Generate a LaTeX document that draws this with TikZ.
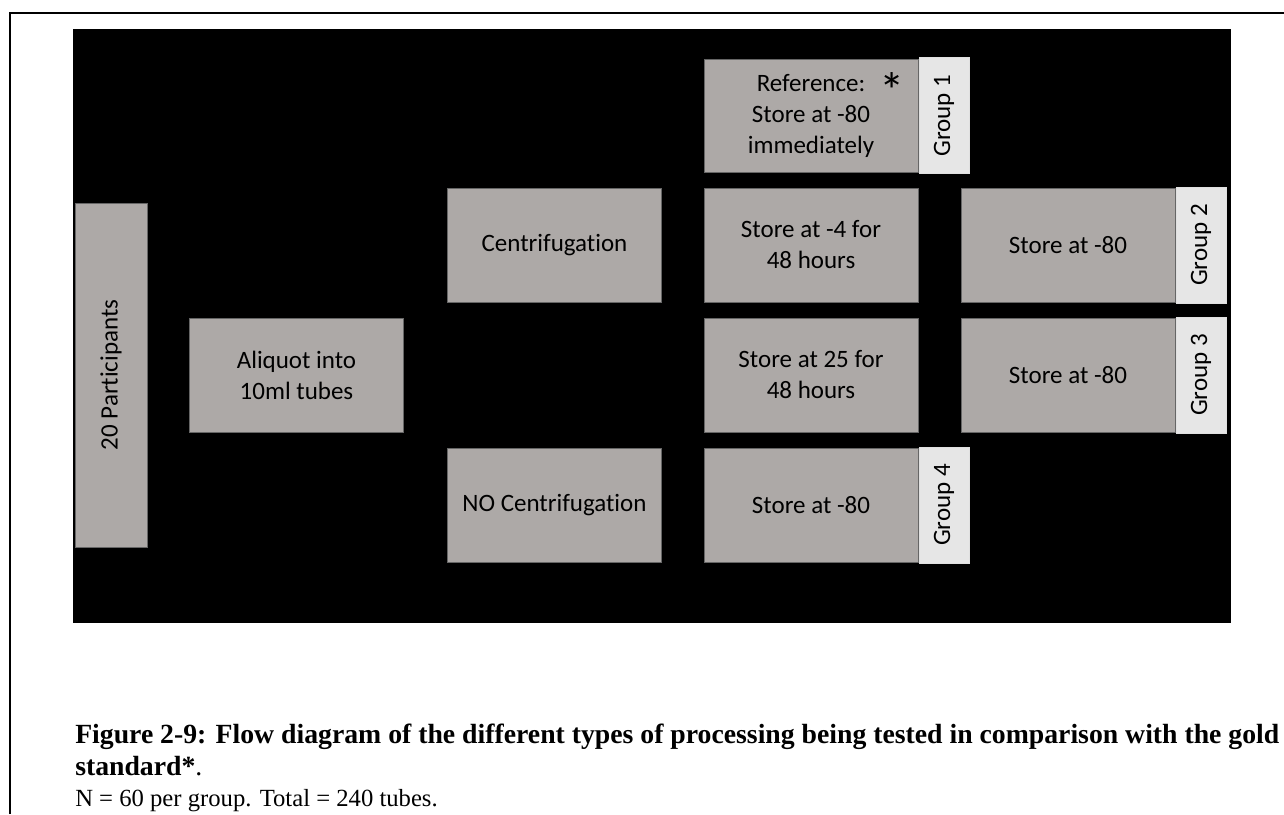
\documentclass[tikz,border=0pt]{standalone}
\usepackage{fontspec}
\setmainfont{Carlito}[Ligatures=NoCommon]
\newfontfamily\capfont{Liberation Serif}
\usetikzlibrary{positioning}
\begin{document}
\begin{tikzpicture}[x=0.75pt,y=-0.75pt]
    % one pixel of the layout
    \def\u{0.75pt}
    % size of each block
    \def\bw{214}
    \def\bh{114}
    \definecolor{boxgray}{RGB}{173,169,167}
    \definecolor{taggray}{RGB}{230,230,230}
    % node style definition
    \tikzstyle{block} = [
    	draw=black!60, fill=boxgray, rectangle, line width=\u,
    	minimum width=\bw*\u, minimum height=\bh*\u,
    	inner sep=0pt, align=center,
    	font=\fontsize{18.75}{23.25}\selectfont ];
    \tikzstyle{tag} = [
    	draw=black!12, fill=taggray, rectangle, line width=\u,
    	minimum width=50*\u, minimum height=116*\u, inner sep=0pt,
    	font=\fontsize{18.75}{23.25}\selectfont ];
    \tikzstyle{plain} = [draw=none,fill=none,inner sep=0pt];
    \useasboundingbox (0,0) rectangle (1284,814);
    % page frame and dark panel
    \draw[line width=2*\u] (10,814) |- (1284,13);
    \fill[black] (73,29) rectangle (1231,623);
    % first two steps
    \node[block, minimum width=72*\u, minimum height=344*\u] (part) at (111,375)
    	{\rotatebox{90}{20 Participants}};
    \node[block] (aliq) at (296.5,375) {Aliquot into\\10ml tubes};
    % processing
    \node[block] (cent) at (554.5,245) {Centrifugation};
    \node[block] (nocent) at (554.5,505) {NO Centrifugation};
    % storage
    \node[block, minimum height=113*\u] (ref) at (811,115.5)
    	{Reference:\\Store at -80\\immediately};
    \node[plain, font=\fontsize{38}{38}\selectfont] (star) at (892,91) {*};
    \node[block] (s4) at (811,245) {Store at -4 for\\48 hours};
    \node[block] (s25) at (811,375) {Store at 25 for\\48 hours};
    \node[block] (s80d) at (811,505) {Store at -80};
    \foreach \nm/\y in {s80b/245, s80c/375}
    {
    	\node[block] (\nm) at (1068,\y) {Store at -80};
    }
    % group tags
    \node[tag, right=0pt of ref] (g1) {\rotatebox{90}{Group 1}};
    \node[tag, right=0pt of s80b] (g2) {\rotatebox{90}{Group 2}};
    \node[tag, right=0pt of s80c] (g3) {\rotatebox{90}{Group 3}};
    \node[tag, right=0pt of s80d] (g4) {\rotatebox{90}{Group 4}};
    % caption
    \node[plain, anchor=base west, font=\capfont\bfseries\fontsize{20.8}{20.8}\selectfont] (cap1) at (75,743)
    	{Figure 2-9: Flow diagram of the different types of processing being tested in comparison with the gold};
    \node[plain, anchor=base west, font=\capfont\fontsize{20.8}{20.8}\selectfont] (cap2) at (75,775)
    	{\textbf{standard*}.};
    \node[plain, anchor=base west, font=\capfont\fontsize{18.5}{18.5}\selectfont] (cap3) at (75,806)
    	{N = 60 per group. Total = 240 tubes.};
\end{tikzpicture}
\end{document}
